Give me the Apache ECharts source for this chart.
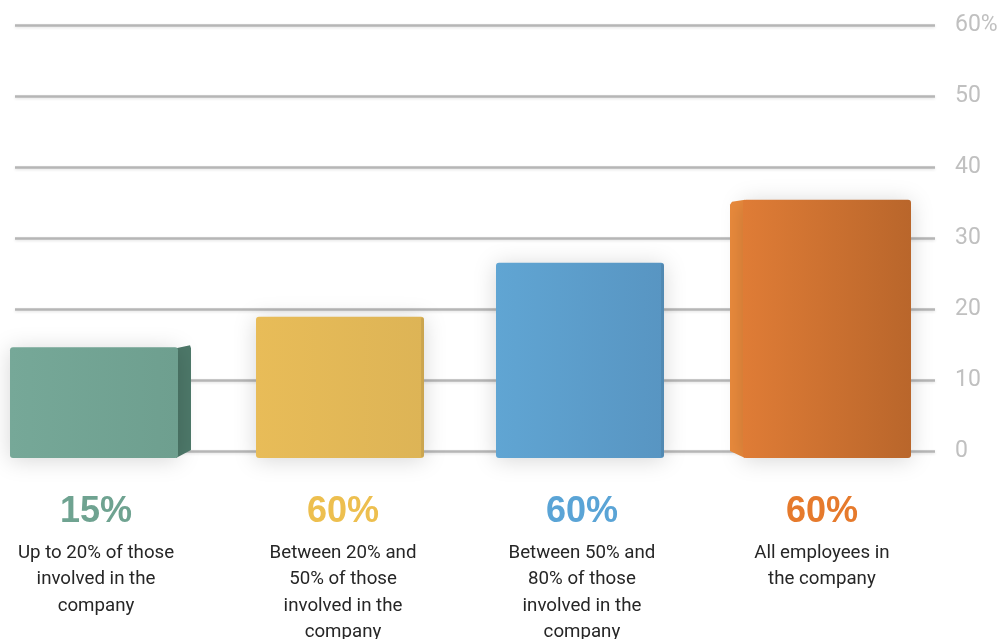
<!DOCTYPE html>
<html>
<head>
<meta charset="utf-8">
<script src="https://cdn.jsdelivr.net/npm/echarts@6/dist/echarts.min.js"></script>
<style>
  html, body { margin: 0; padding: 0; background: #ffffff; }
  #chart { width: 1005px; height: 639px; }
</style>
</head>
<body>
<div id="chart"></div>
<script>
// ---- data ----
const categories = [
  'Up to 20% of those\ninvolved in the\ncompany',
  'Between 20% and\n50% of those\ninvolved in the\ncompany',
  'Between 50% and\n80% of those\ninvolved in the\ncompany',
  'All employees in\nthe company'
];
const values = [14.6, 18.9, 26.5, 35.4];
const pctLabels = ['15%', '60%', '60%', '60%'];
const yTickValues = [0, 10, 20, 30, 40, 50, 60];

// ---- styles ----
const frontColors = [
  ['#76a898', '#6e9f8f'],
  ['#e8bc58', '#ddb456'],
  ['#60a5d3', '#5895c2'],
  ['#df7c36', '#b9662b']
];
const sideColors = ['#4d7869', null, null, '#e98a3c'];
const sideWhere = ['right', 'none', 'none', 'left'];
const pctColors = ['#6fa391', '#edbf4f', '#5aa4d6', '#e67a2c'];
const labelNudge = [-0.0167, 0.0125, 0.008, 0.008];

const chart = echarts.init(document.getElementById('chart'), null, { renderer: 'canvas' });

function renderItem(params, api) {
  const i = params.dataIndex;
  const topPt = api.coord([api.value(0), api.value(1)]);
  const basePt = api.coord([api.value(0), 0]);
  const cx = topPt[0];
  const yTop = topPt[1];
  const yBot = basePt[1] + 7;
  const frontW = 168, sideW = 13;
  const where = sideWhere[i];
  let fx0;
  if (where === 'right') fx0 = cx - 90;
  else if (where === 'left') fx0 = cx - 77;
  else fx0 = cx - 84;
  const fx1 = fx0 + frontW;
  const children = [];
  if (where === 'right') {
    children.push({
      type: 'polygon',
      shape: { points: [[fx1 - 2, yTop + 1], [fx1 + sideW - 1, yTop - 2], [fx1 + sideW, yTop + 1], [fx1 + sideW, yBot - 8], [fx1 - 2, yBot]] },
      style: { fill: sideColors[i] },
      z2: 1
    });
  } else if (where === 'left') {
    children.push({
      type: 'polygon',
      shape: { points: [[fx0 - sideW, yTop + 5], [fx0 - sideW + 2, yTop + 2], [fx0 + 2, yTop], [fx0 + 2, yBot], [fx0 - sideW, yBot - 7]] },
      style: { fill: sideColors[i] },
      z2: 1
    });
  }
  children.push({
    type: 'rect',
    shape: { x: fx0, y: yTop, width: frontW, height: yBot - yTop, r: 3 },
    style: {
      fill: {
        type: 'linear', x: 0, y: 0, x2: 1, y2: 0,
        colorStops: [
          { offset: 0, color: frontColors[i][0] },
          { offset: 1, color: frontColors[i][1] }
        ]
      },
      shadowBlur: 22,
      shadowColor: 'rgba(0,0,0,0.16)',
      shadowOffsetY: 2
    },
    z2: 2
  });
  if (where === 'none') {
    children.push({
      type: 'rect',
      shape: { x: fx1 - 3, y: yTop + 1, width: 3, height: yBot - yTop - 2, r: 1 },
      style: { fill: 'rgba(0,0,0,0.08)' },
      z2: 3
    });
  }
  return { type: 'group', children: children };
}

const rich = {
  d: { fontFamily: 'Roboto', fontSize: 18.7, color: '#262626', lineHeight: 26.5, align: 'center' }
};
pctColors.forEach((c, k) => {
  rich['p' + k] = { fontFamily: 'Liberation Sans', fontWeight: 'bold', fontSize: 36, color: c, lineHeight: 56, align: 'center' };
});

const option = {
  backgroundColor: '#ffffff',
  animation: false,
  grid: [
    { left: 15, right: 70, top: 25, bottom: 188, outerBoundsMode: 'none' },
    { left: 0, right: 65, top: 25, bottom: 188, outerBoundsMode: 'none' }
  ],
  xAxis: [
    { type: 'value', gridIndex: 0, show: false, min: 0, max: 1 },
    {
      type: 'value', gridIndex: 1, min: -0.4167, max: 3.5,
      splitLine: { show: false },
      axisLine: { show: false }, axisTick: { show: false },
      axisLabel: {
        customValues: categories.map((c, i) => i + labelNudge[i]),
        margin: 33,
        formatter: function (val) {
          const idx = Math.round(val);
          const lines = categories[idx].split('\n').map(s => '{d|' + s + '}').join('\n');
          return '{p' + idx + '|' + pctLabels[idx] + '}\n' + lines;
        },
        rich: rich
      }
    }
  ],
  yAxis: [
    {
      type: 'value', gridIndex: 0, position: 'right', min: 0, max: 60, interval: 10,
      axisLine: { show: false }, axisTick: { show: false },
      splitLine: { show: true, lineStyle: { color: '#b6b6b6', width: 2.5, shadowColor: 'rgba(0,0,0,0.12)', shadowBlur: 3, shadowOffsetY: 1 } },
      axisLabel: {
        margin: 20, fontFamily: 'Roboto', fontSize: 23, color: '#c0c0c0',
        formatter: function (v) { return v === yTickValues[yTickValues.length - 1] ? v + '%' : String(v); }
      }
    },
    { type: 'value', gridIndex: 1, min: 0, max: 60, show: false, splitLine: { show: false } }
  ],
  series: [
    {
      type: 'custom',
      xAxisIndex: 1, yAxisIndex: 1,
      renderItem: renderItem,
      data: values.map((v, i) => [i, v]),
      clip: false,
      z: 5
    }
  ]
};
chart.setOption(option);
</script>
</body>
</html>
